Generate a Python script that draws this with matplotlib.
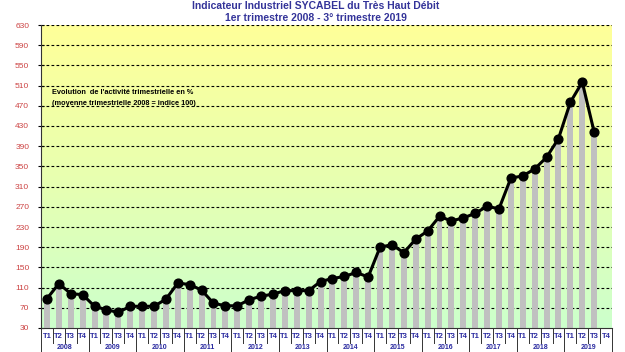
# Indicateur Industriel SYCABEL du Très Haut Débit
# coding=utf-8

import numpy as np
from matplotlib import pyplot as plt
from matplotlib import transforms
from matplotlib.colors import LinearSegmentedColormap

plt.rcParams['font.family'] = ['Liberation Sans', 'DejaVu Sans']

years = ['2008', '2009', '2010', '2011', '2012', '2013', '2014',
         '2015', '2016', '2017', '2018', '2019']
quarters = ['T1', 'T2', 'T3', 'T4']

# indice trimestriel, T1 2008 -> T3 2019
indice = [88, 118, 98, 96,
          73, 66, 61, 73,
          73, 73, 87, 119,
          116, 105, 79, 74,
          74, 86, 93, 97,
          104, 104, 104, 122,
          128, 132, 140, 131,
          190, 195, 179, 206,
          222, 251, 242, 248,
          257, 271, 266, 327,
          331, 345, 368, 405,
          477, 517, 418]

yticks = list(range(30, 631, 40))


def dessiner():
    fig = plt.figure(figsize=(6.25, 3.52), dpi=100)
    ax = fig.add_axes([41 / 625, 24 / 352, 571 / 625, 303 / 352])
    n = len(years) * len(quarters)
    x = np.arange(len(indice))

    # fond en dégradé jaune -> vert
    cmap = LinearSegmentedColormap.from_list('fond', ['#ccffcc', '#e8ffb0', '#ffff99'])
    grad = np.linspace(0, 1, 256).reshape(-1, 1)
    ax.imshow(grad, aspect='auto', cmap=cmap, origin='lower',
              extent=(-0.5, n - 0.5, 30, 630), zorder=0)

    ax.bar(x, np.array(indice) - 30, bottom=30, width=0.5, color='#c0c0c0', zorder=2)
    ax.plot(x, indice, color='black', lw=2.2, marker='o', ms=6.3, zorder=3)

    ax.set_xlim(-0.5, n - 0.5)
    ax.set_ylim(30, 630)
    ax.set_yticks(yticks)
    ax.set_yticklabels([str(v) for v in yticks], color='#cc4444', fontsize=6)
    ax.tick_params(axis='y', direction='inout', length=5, width=0.8, pad=6)
    for v in yticks[1:]:
        ax.axhline(v, color='black', lw=0.8, ls=(0, (2.5, 2)), zorder=1)
    ax.set_xticks([])
    for s in ['top', 'right']:
        ax.spines[s].set_visible(False)
    ax.spines['left'].set_color('#333333')
    ax.spines['bottom'].set_color('#333333')

    # libellés à deux niveaux
    trans = transforms.blended_transform_factory(ax.transData, ax.transAxes)
    for i in range(n + 1):
        longueur = -0.095 if i % 4 == 0 else -0.05
        ax.plot([i - 0.5, i - 0.5], [0, longueur], color='#333333', lw=0.7,
                transform=trans, clip_on=False)
    for i in range(n):
        ax.text(i, -0.027, quarters[i % 4], transform=trans, ha='center', va='center',
                fontsize=5.5, fontweight='bold', color='#2a2aa0')
    for j, an in enumerate(years):
        ax.text(j * 4 + 1.5, -0.066, an, transform=trans, ha='center', va='center',
                fontsize=5, fontweight='bold', color='#2a2aa0')

    ax.text(0.4, 497, "Evolution  de l'activité trimestrielle en %", fontsize=5.3,
            fontweight='bold', va='center', zorder=4)
    ax.text(0.4, 475, "(moyenne trimestrielle 2008 = indice 100)", fontsize=5.3,
            fontweight='bold', va='center', zorder=4)

    fig.text(0.505, 0.982, 'Indicateur Industriel SYCABEL du Très Haut Débit',
             ha='center', va='center', fontsize=7.5, fontweight='bold', color='#333399')
    fig.text(0.505, 0.95, '1er trimestre 2008 - 3° trimestre 2019',
             ha='center', va='center', fontsize=7.5, fontweight='bold', color='#333399')

    fig.savefig('out.png', dpi=100)


if __name__ == '__main__':
    dessiner()
